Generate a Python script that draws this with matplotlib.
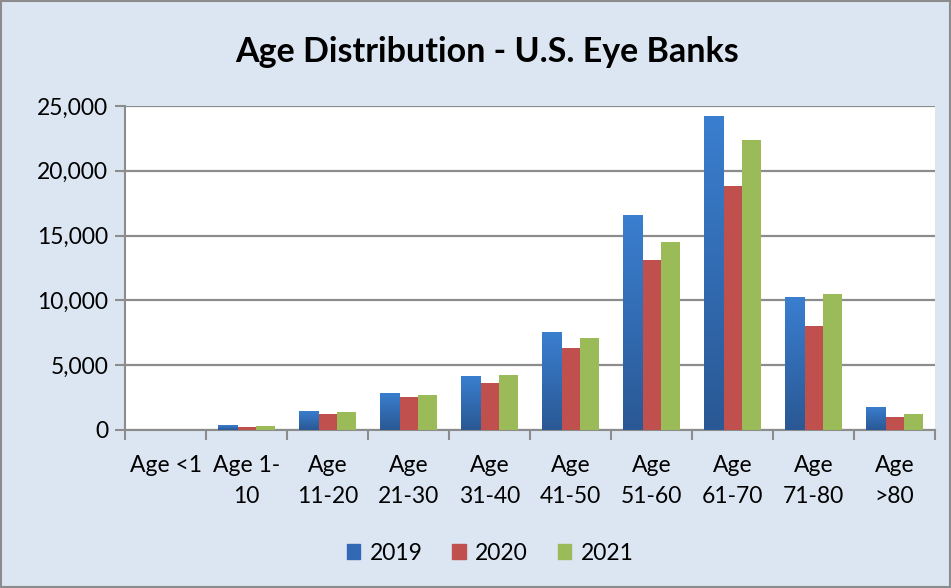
import matplotlib.pyplot as plt
import matplotlib.patches as mpatches
import numpy as np
from matplotlib.colors import LinearSegmentedColormap
from matplotlib.ticker import FuncFormatter, FixedLocator

plt.rcParams['font.family'] = ['Lato', 'DejaVu Sans']

categories = ["Age <1", "Age 1-\n10", "Age\n11-20", "Age\n21-30", "Age\n31-40",
              "Age\n41-50", "Age\n51-60", "Age\n61-70", "Age\n71-80", "Age\n>80"]
years = ["2019", "2020", "2021"]
v2019 = [0, 360, 1470, 2860, 4180, 7590, 16560, 24230, 10290, 1780]
v2020 = [0, 210, 1260, 2550, 3640, 6350, 13130, 18810, 8050, 1000]
v2021 = [0, 280, 1420, 2700, 4260, 7120, 14500, 22350, 10530, 1240]

BG = "#dce6f2"
RED = "#c0504d"
GREEN = "#9bbb59"
BLUE_TOP = "#3a7fd0"
BLUE_BOT = "#2a5894"

fig = plt.figure(figsize=(9.51, 5.88), dpi=100)
fig.patch.set_facecolor(BG)
ax = fig.add_axes([125 / 951, 1 - 430 / 588, 810 / 951, 324 / 588])
ax.set_facecolor("white")

x = np.arange(len(categories))
w = 0.235
bars19 = ax.bar(x - w, v2019, w, color=BLUE_TOP, zorder=3, lw=0)
ax.bar(x, v2020, w, color=RED, zorder=3, lw=0)
ax.bar(x + w, v2021, w, color=GREEN, zorder=3, lw=0)

# vertical gradient on each 2019 bar, dark at the base, light at the top
cmap = LinearSegmentedColormap.from_list("blu", [BLUE_BOT, BLUE_TOP])
grad = np.linspace(0, 1, 256).reshape(-1, 1)
for b in bars19:
    h = b.get_height()
    if h <= 0:
        continue
    x0 = b.get_x()
    im = ax.imshow(grad, cmap=cmap, origin="lower", aspect="auto",
                   extent=(x0, x0 + b.get_width(), 0, h), zorder=3.5)
    im.set_clip_path(b)

ax.set_xlim(-0.5, len(categories) - 0.5)
ax.set_ylim(0, 25000)
ax.set_yticks(range(0, 25001, 5000))
ax.yaxis.set_major_formatter(FuncFormatter(lambda v, p: f"{int(v):,}"))
ax.grid(axis="y", color="#8c8c8c", lw=1.6, zorder=1)

ax.xaxis.set_major_locator(FixedLocator(np.arange(-0.5, len(categories), 1.0)))
ax.set_xticklabels([])
ax.set_xticks(x, minor=True)
ax.set_xticklabels(categories, minor=True, fontsize=16.5, color="black",
                   linespacing=1.6)
ax.tick_params(axis="x", which="minor", length=0, pad=18)
ax.tick_params(axis="x", which="major", direction="out", length=7,
               color="#8c8c8c", width=1.5)
ax.tick_params(axis="y", direction="out", length=7, color="#8c8c8c",
               width=1.5, labelsize=16.5, pad=5)

for s in ["top", "right"]:
    ax.spines[s].set_visible(False)
for s in ["left", "bottom"]:
    ax.spines[s].set_color("#8c8c8c")
    ax.spines[s].set_linewidth(1.5)

fig.text(487 / 951, 1 - 52 / 588, "Age Distribution - U.S. Eye Banks",
         ha="center", va="center", fontsize=24.5, fontweight="bold")

handles = [mpatches.Patch(color=c, label=y)
           for c, y in zip(["#3268b4", RED, GREEN], years)]
fig.legend(handles=handles, loc="center", bbox_to_anchor=(490 / 951, 1 - 553 / 588),
           ncol=3, frameon=False, fontsize=16.5, handlelength=0.6,
           handleheight=0.6, handletextpad=0.4, columnspacing=1.3)

fig.add_artist(mpatches.Rectangle((0.001, 0.001), 0.998, 0.998,
                                  transform=fig.transFigure, fill=False,
                                  edgecolor="#8c8c8c", lw=1.5))

fig.savefig("out.png", dpi=100, facecolor=BG)
